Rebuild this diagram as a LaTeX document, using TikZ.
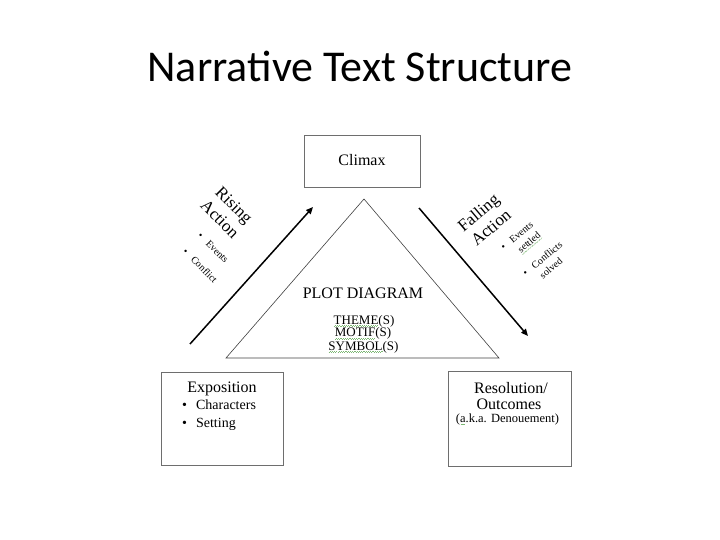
\documentclass[tikz,border=0pt]{standalone}
\usepackage{fontspec}
\setmainfont{Liberation Serif}
\newfontfamily\titlefont{Carlito}
\usetikzlibrary{arrows.meta,shadows}
\definecolor{boxline}{HTML}{6E6E6E}
\definecolor{spellgreen}{HTML}{7DB874}
\newcommand\squig[1]{\leavevmode\setbox0\hbox{#1}\rlap{\color{spellgreen}\lower2.2pt\hbox to\wd0{\xleaders\hbox{\vrule width 1.1pt height .4pt\raise.5pt\hbox{\vrule width 1.1pt height .4pt}}\hfil}}\box0}

\begin{document}
\begin{tikzpicture}[x=1pt,y=-1pt,
  plotbox/.style={draw=boxline,line width=0.8pt,fill=white,drop shadow={shadow xshift=1pt,shadow yshift=-1pt,opacity=0.3}},
  lbl/.style={inner sep=0,anchor=base},
  side/.style={inner sep=0,anchor=base west},
  headfont/.style={font=\fontsize{16}{19}\selectfont},
  itemfont/.style={font=\fontsize{14}{17}\selectfont},
  smallfont/.style={font=\fontsize{10}{12.7}\selectfont},
  plotarrow/.style={line width=1.5pt,-{Triangle[length=7pt,width=6pt]}}]
\useasboundingbox (0,0) rectangle (720,540);
\node[lbl,font=\titlefont\fontsize{44}{44}\selectfont] (title) at (360,82) {Narrative Text Structure};
% the three boxes
\node[plotbox,minimum width=116pt,minimum height=52pt] (climaxbox) at (362,161) {};
\node[plotbox,minimum width=122pt,minimum height=93pt] (expobox) at (222,418.5) {};
\node[plotbox,minimum width=123pt,minimum height=95pt] (resolbox) at (509.5,418.5) {};
% triangle
\coordinate (apex) at (364,199); \coordinate (baseleft) at (226,358); \coordinate (baseright) at (499,358);
\draw[line width=0.6pt,draw=black!75] (apex)--(baseleft)--(baseright)--cycle;
% arrows
\coordinate (risefoot) at (190,344); \coordinate (risetop) at (313,207);
\coordinate (fallhead) at (419,208); \coordinate (fallfoot) at (528,336);
\draw[plotarrow] (risefoot)--(risetop);
\draw[plotarrow] (fallhead)--(fallfoot);
% box texts
\node[lbl,headfont] (climaxlabel) at (362,166) {Climax};
\node[lbl,headfont] (plotlabel) at (363,298) {PLOT DIAGRAM};
\node[lbl,font=\fontsize{13}{13}\selectfont] (themes) at (364,324) {\squig{THEME}(S)};
\node[lbl,font=\fontsize{13}{13}\selectfont] (motifs) at (363,336.7) {\squig{MOTIF}(S)};
\node[lbl,font=\fontsize{13}{13}\selectfont] (symbols) at (363.5,350) {\squig{SYMBOL}(S)};
\node[lbl,headfont] (expolabel) at (222,392) {Exposition};
\node[side,itemfont] (characters) at (182,409) {\textbullet\hspace{9pt}Characters};
\node[side,itemfont] (setting) at (182,427) {\textbullet\hspace{9pt}Setting};
\node[lbl,headfont] (resolution) at (511,393) {Resolution/};
\node[lbl,headfont] (outcomes) at (509,409) {Outcomes};
\node[lbl,font=\fontsize{12.5}{14}\selectfont] (aka) at (507.5,422.5) {(\squig{a}.k.a. Denouement)};
% rotated side texts
\node[rotate=-45,align=center,font=\fontsize{17}{20}\selectfont] (rising) at (227,212) {Rising\\Action};
\node[side,smallfont,rotate=-45] (riseevents) at (197,236) {\textbullet\hspace{8pt}Events};
\node[side,smallfont,rotate=-45] (riseconflict) at (182,252) {\textbullet\hspace{8pt}Conflict};
\node[rotate=40,align=center,font=\fontsize{17}{19.5}\selectfont] (falling) at (484.5,220) {Falling\\Action};
\node[side,smallfont,rotate=40] (fallevents) at (504,251) {\begin{tabular}[t]{@{}l@{\hspace{8pt}}l@{}}\textbullet & Events\\ & \squig{settled}\end{tabular}};
\node[side,smallfont,rotate=40] (fallconflicts) at (526,277) {\begin{tabular}[t]{@{}l@{\hspace{8pt}}l@{}}\textbullet & Conflicts\\ & solved\end{tabular}};
\end{tikzpicture}
\end{document}
